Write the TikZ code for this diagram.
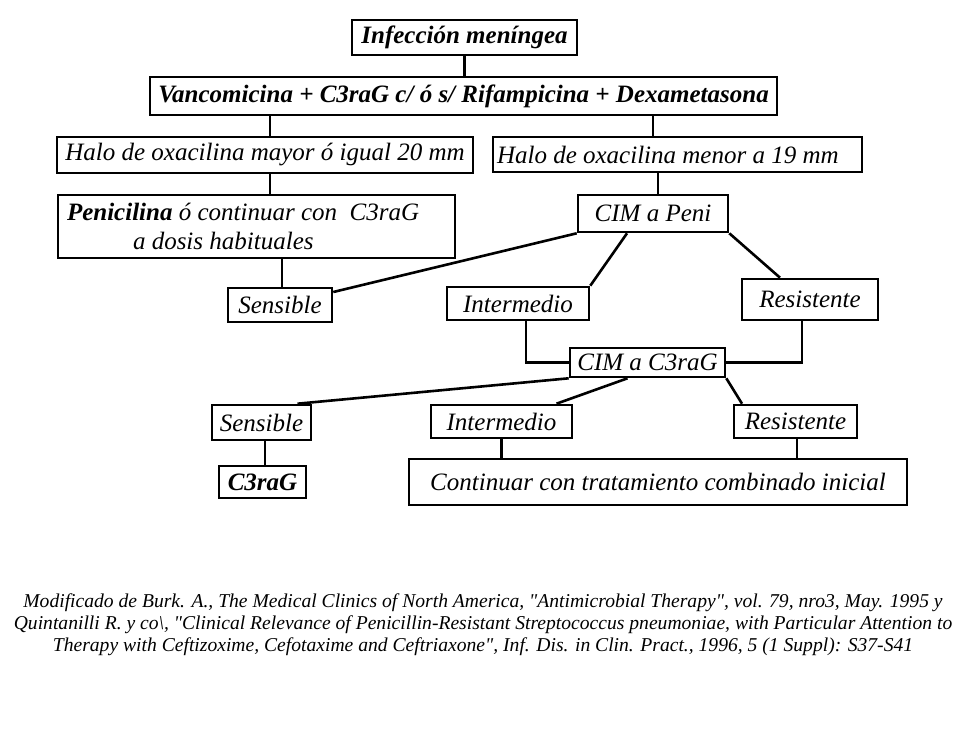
\documentclass[tikz,border=0pt]{standalone}
\usepackage{fontspec}
\setmainfont{Liberation Serif}
\begin{document}
\begin{tikzpicture}[x=1pt,y=-1pt,
  box/.style={draw, line width=2.6pt, inner sep=0pt, font=\fontsize{25}{29}\selectfont\itshape},
  bbox/.style={box, font=\fontsize{25}{29}\selectfont\bfseries\itshape},
  link/.style={line width=2.6pt},
  foot/.style={align=center, inner sep=0pt, font=\fontsize{19.6}{22}\selectfont\itshape}]
\useasboundingbox (0,0) rectangle (976,736);
\fill[white] (0,0) rectangle (976,736);
% nodes
\node[bbox, minimum width=225pt, minimum height=35pt] (inf) at (464.5,37.5) {Infección meníngea};
\node[bbox, minimum width=627pt, minimum height=38pt] (vanc) at (463.5,96) {Vancomicina + C3raG c/ ó s/ Rifampicina + Dexametasona};
\node[box, minimum width=416pt, minimum height=36pt] (halo1) at (265,155) {Halo de oxacilina mayor ó igual 20 mm};
\node[box, minimum width=369pt, minimum height=35pt, text width=361pt, inner xsep=4pt, align=flush left] (halo2) at (677.5,154.5) {Halo de oxacilina menor a 19 mm};
\node[box, minimum width=397pt, minimum height=63pt, text width=379pt, inner xsep=9pt, align=flush left] (peni) at (256.5,226.5) {\textbf{Penicilina} ó continuar con\ \ C3raG\\\hspace*{66pt}a dosis habituales};
\node[box, minimum width=150pt, minimum height=37pt] (cimp) at (653,213.5) {CIM a Peni};
\node[box, minimum width=104pt, minimum height=34pt] (sens1) at (280,305) {Sensible};
\node[box, minimum width=142pt, minimum height=33pt] (int1) at (518,303.5) {Intermedio};
\node[box, minimum width=136pt, minimum height=41pt] (res1) at (810,299.5) {Resistente};
\node[box, minimum width=155pt, minimum height=29pt] (cimc) at (647.5,362.5) {CIM a C3raG};
\node[box, minimum width=99pt, minimum height=35pt] (sens2) at (261.5,422.5) {Sensible};
\node[box, minimum width=141pt, minimum height=33pt] (int2) at (501.5,421.5) {Intermedio};
\node[box, minimum width=123pt, minimum height=33pt] (res2) at (795.5,421.5) {Resistente};
\node[bbox, minimum width=87pt, minimum height=32pt] (c3) at (262.5,482) {C3raG};
\node[box, minimum width=498pt, minimum height=46pt] (cont) at (658,482) {Continuar con tratamiento combinado inicial};
% connectors
\draw[link] (inf.south) -- (inf.south |- vanc.north);
\draw[link] ([xshift=5pt]halo1.north) -- ([xshift=5pt]halo1.north |- vanc.south);
\draw[link] ([xshift=-24.5pt]halo2.north) -- ([xshift=-24.5pt]halo2.north |- vanc.south);
\draw[link] ([xshift=5pt]halo1.south) -- ([xshift=5pt]halo1.south |- peni.north);
\draw[link] ([xshift=5pt]cimp.north) -- ([xshift=5pt]cimp.north |- halo2.south);
\draw[link] ([xshift=2pt]sens1.north) -- ([xshift=2pt]sens1.north |- peni.south);
\draw[link] ([yshift=13pt]sens1.east) -- (cimp.south west);
\draw[link] ([xshift=-26pt]cimp.south) -- (int1.north east);
\draw[link] (cimp.south east) -- ([xshift=-30pt]res1.north);
\draw[link] ([xshift=8pt]int1.south) |- (cimc.west);
\draw[link] ([xshift=-8pt]res1.south) |- (cimc.east);
\draw[link] (cimc.south west) -- ([xshift=36pt]sens2.north);
\draw[link] ([xshift=-20pt]cimc.south) -- ([xshift=55pt]int2.north);
\draw[link] (cimc.south east) -- ([xshift=-53.5pt]res2.north);
\draw[link] ([xshift=3.5pt]sens2.south) -- ([xshift=3.5pt]sens2.south |- c3.north);
\draw[link] (int2.south) -- (int2.south |- cont.north);
\draw[link] ([xshift=1.5pt]res2.south) -- ([xshift=1.5pt]res2.south |- cont.north);
% reference
\node[foot] (ref) at (483,625) {Modificado de Burk. A., The Medical Clinics of North America, \textquotedbl Antimicrobial Therapy\textquotedbl, vol. 79, nro3, May. 1995 y\\
Quintanilli R. y co\textbackslash, \textquotedbl Clinical Relevance of Penicillin-Resistant Streptococcus pneumoniae, with Particular Attention to\\
Therapy with Ceftizoxime, Cefotaxime and Ceftriaxone\textquotedbl, Inf. Dis. in Clin. Pract., 1996, 5 (1 Suppl): S37-S41};
\end{tikzpicture}
\end{document}
